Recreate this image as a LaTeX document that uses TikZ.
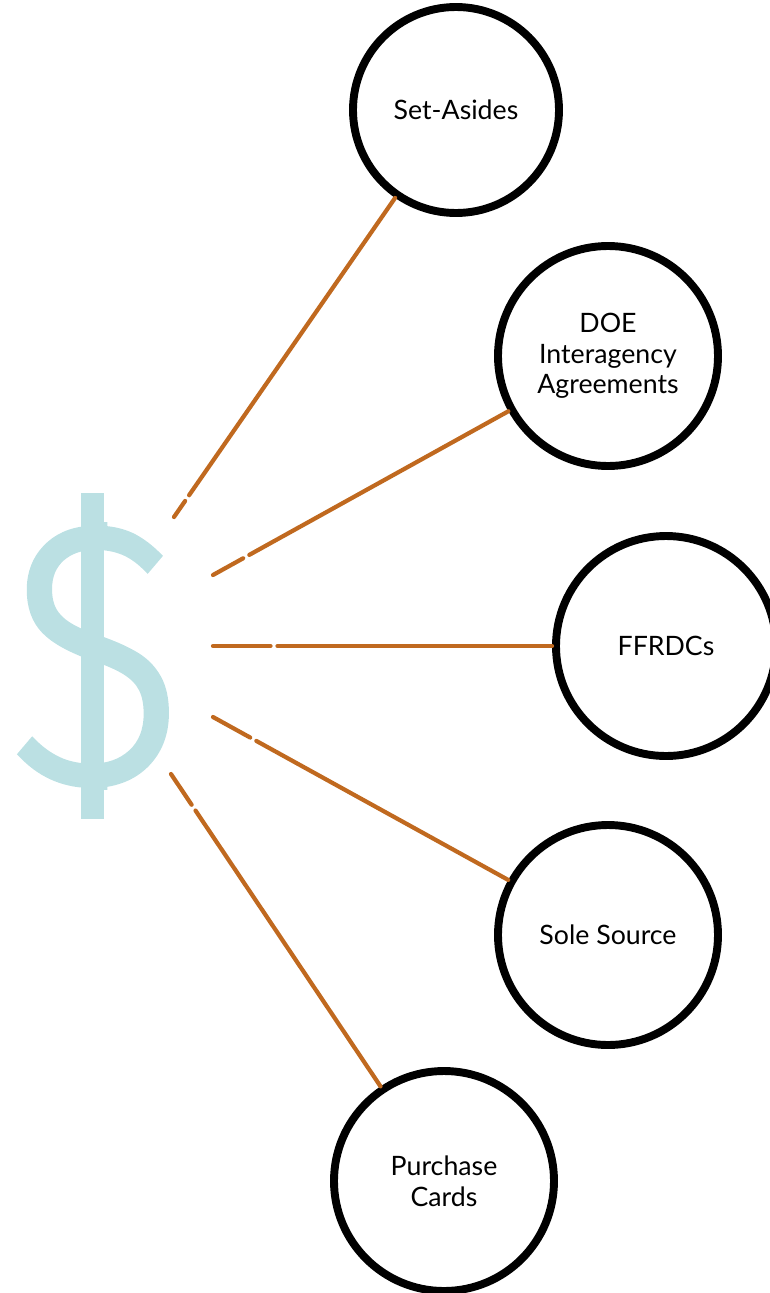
\documentclass[tikz,border=0pt]{standalone}
\usepackage{fontspec}
\setmainfont{Lato}
\newfontfamily\dollarfont[FakeBold=1.5]{Fira Sans Light}
\definecolor{linkbrown}{HTML}{C0691F}
\definecolor{dollarblue}{HTML}{BBE0E3}
\tikzset{
    money/.style={circle,draw=black,line width=4.5pt,minimum size=4.4cm,inner sep=0pt,align=center,font=\fontsize{15.2}{17.5}\selectfont},
    link/.style={linkbrown,line width=2.4pt,line cap=round,dash pattern=on #1 off .14cm on 30cm}
}
\begin{document}
\begin{tikzpicture}
        \useasboundingbox (0,0) rectangle (15.38,-25.86);

        \begin{scope}
            \clip (0,-10.44) rectangle (4,-15.78);
            \node[text=dollarblue,inner sep=0pt,xscale=.9,font=\fontsize{213}{213}\dollarfont] (dollar) at (1.92,-13.12) {\$};
        \end{scope}
        \fill[dollarblue] (1.62,-9.86) rectangle (2.08,-16.38);

        \node[money,minimum size=4.12cm] (setasides) at (9.12,-2.2) {Set-Asides};
        \node[money] (doe) at (12.16,-7.12) {DOE\\Interagency\\Agreements};
        \node[money] (ffrdc) at (13.32,-12.92) {FFRDCs};
        \node[money] (sole) at (12.16,-18.7) {Sole Source};
        \node[money] (cards) at (8.88,-23.62) {Purchase\\Cards};

        \coordinate (s1) at (3.48,-10.34);
        \coordinate (s2) at (4.26,-11.5);
        \coordinate (s3) at (4.26,-12.92);
        \coordinate (s4) at (4.26,-14.34);
        \coordinate (s5) at (3.42,-15.48);

        \draw[link=.39cm] (s1) -- (setasides);
        \draw[link=.69cm] (s2) -- (doe);
        \draw[link=1.15cm] (s3) -- (ffrdc);
        \draw[link=.85cm] (s4) -- (sole);
        \draw[link=.74cm] (s5) -- (cards);
\end{tikzpicture}
\end{document}
